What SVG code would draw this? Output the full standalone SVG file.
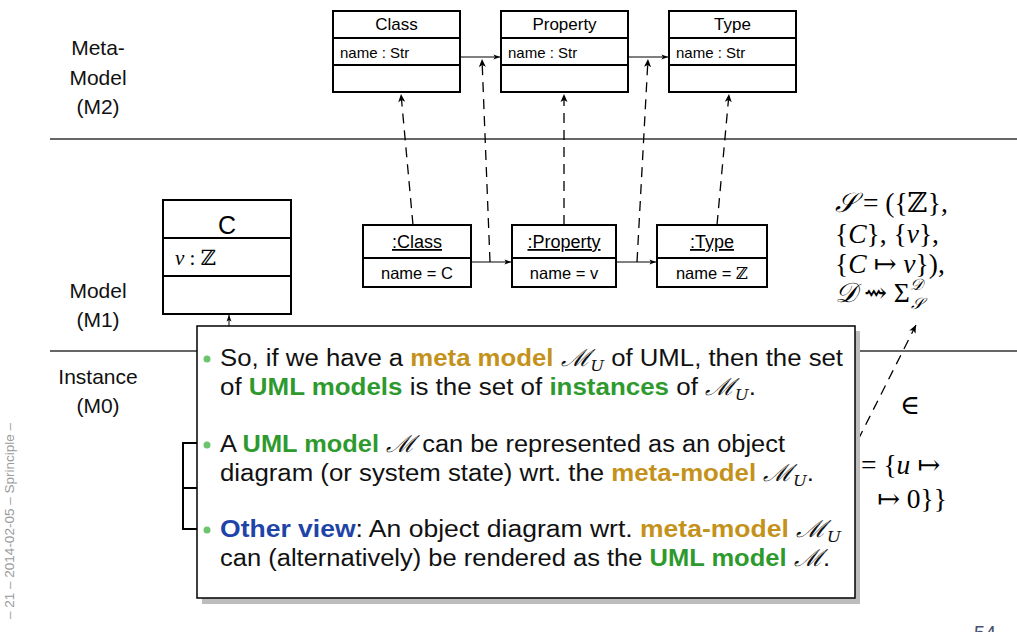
<svg xmlns="http://www.w3.org/2000/svg" width="1017" height="632" viewBox="0 0 1017 632">
<style>
.box{fill:#fff;stroke:#000;stroke-width:2}
.sep{stroke:#000;stroke-width:2}
.lbl{font-family:"Liberation Sans",Arial,sans-serif;fill:#000}
.lvl{font-family:"Liberation Sans",Arial,sans-serif;font-size:21px;fill:#111;text-anchor:middle}
.math{font-family:"Liberation Serif","DejaVu Serif",serif;fill:#000}
.dash{fill:none;stroke:#000;stroke-width:1.3;stroke-dasharray:10 7}
.link{fill:none;stroke:#000;stroke-width:1}
.pop{font-family:"Liberation Sans",Arial,sans-serif;font-size:23.5px;fill:#111}
.gold{fill:#C4921A;font-weight:bold}
.green{fill:#2E9A2E;font-weight:bold}
.blue{fill:#1E44A8;font-weight:bold}
.mu{font-family:"DejaVu Serif",serif;font-style:italic}
</style>
<defs>
<marker id="ah" markerWidth="10" markerHeight="10" refX="9" refY="5" orient="auto" markerUnits="userSpaceOnUse">
<path d="M1,1.5 L9,5 L1,8.5 L3,5 Z" fill="#000"/>
</marker>
<marker id="ahs" markerWidth="8" markerHeight="8" refX="7" refY="4" orient="auto" markerUnits="userSpaceOnUse">
<path d="M0.5,1.5 L7,4 L0.5,6.5 L2,4 Z" fill="#000"/>
</marker>
</defs>
<rect width="1017" height="632" fill="#fff"/>

<!-- level separators -->
<g id="levels">
<line x1="50" y1="139" x2="1017" y2="139" stroke="#333" stroke-width="1.3"/>
<line x1="50" y1="351" x2="1017" y2="351" stroke="#333" stroke-width="1.3"/>
<text class="lvl" x="98" y="55">Meta-</text>
<text class="lvl" x="98" y="85">Model</text>
<text class="lvl" x="98" y="114">(M2)</text>
<text class="lvl" x="98" y="298">Model</text>
<text class="lvl" x="98" y="327">(M1)</text>
<text class="lvl" x="98" y="384">Instance</text>
<text class="lvl" x="98" y="413">(M0)</text>
</g>

<!-- meta-model nodes -->
<g id="Class">
<rect class="box" x="333" y="11" width="127" height="81"/>
<line class="sep" x1="333" y1="38" x2="460" y2="38"/>
<line class="sep" x1="333" y1="65" x2="460" y2="65"/>
<text class="lbl" x="396.5" y="30" font-size="17" text-anchor="middle">Class</text>
<text class="lbl" x="340" y="58" font-size="15">name : Str</text>
</g>
<g id="Property">
<rect class="box" x="501" y="11" width="127" height="81"/>
<line class="sep" x1="501" y1="38" x2="628" y2="38"/>
<line class="sep" x1="501" y1="65" x2="628" y2="65"/>
<text class="lbl" x="564.5" y="30" font-size="17" text-anchor="middle">Property</text>
<text class="lbl" x="508" y="58" font-size="15">name : Str</text>
</g>
<g id="Type">
<rect class="box" x="669" y="11" width="127" height="81"/>
<line class="sep" x1="669" y1="38" x2="796" y2="38"/>
<line class="sep" x1="669" y1="65" x2="796" y2="65"/>
<text class="lbl" x="732.5" y="30" font-size="17" text-anchor="middle">Type</text>
<text class="lbl" x="676" y="58" font-size="15">name : Str</text>
</g>

<!-- model nodes -->
<g id="C">
<rect class="box" x="163" y="200" width="128" height="114"/>
<line class="sep" x1="163" y1="238" x2="291" y2="238"/>
<line class="sep" x1="163" y1="276" x2="291" y2="276"/>
<text class="lbl" x="227" y="234" font-size="25" text-anchor="middle">C</text>
<text class="math" x="175" y="265" font-size="21"><tspan font-style="italic">v</tspan> : ℤ</text>
</g>
<g id="objClass">
<rect class="box" x="363" y="225" width="108" height="62"/>
<line class="sep" x1="363" y1="258" x2="471" y2="258"/>
<text class="lbl" x="417" y="248" font-size="18" text-anchor="middle" text-decoration="underline">:Class</text>
<text class="lbl" x="417" y="279" font-size="16.5" text-anchor="middle">name = C</text>
</g>
<g id="objProperty">
<rect class="box" x="512" y="225" width="104" height="62"/>
<line class="sep" x1="512" y1="258" x2="616" y2="258"/>
<text class="lbl" x="564" y="248" font-size="18" text-anchor="middle" text-decoration="underline">:Property</text>
<text class="lbl" x="564" y="279" font-size="16.5" text-anchor="middle">name = v</text>
</g>
<g id="objType">
<rect class="box" x="657" y="225" width="110" height="62"/>
<line class="sep" x1="657" y1="258" x2="767" y2="258"/>
<text class="lbl" x="712" y="248" font-size="18" text-anchor="middle" text-decoration="underline">:Type</text>
<text class="lbl" x="712" y="279" font-size="16.5" text-anchor="middle">name = <tspan font-family="DejaVu Serif,serif">ℤ</tspan></text>
</g>

<!-- signature text -->
<g id="signature" class="math" font-size="27.5">
<text x="835" y="212"><tspan font-style="italic">𝒮</tspan> = ({ℤ},</text>
<text x="835" y="243">{<tspan font-style="italic">C</tspan>}, {<tspan font-style="italic">v</tspan>},</text>
<text x="835" y="273">{<tspan font-style="italic">C</tspan> ↦ <tspan font-style="italic">v</tspan>}),</text>
<text x="835" y="302"><tspan font-style="italic">𝒟</tspan> ⇝ Σ<tspan font-size="16" dy="-12" font-style="italic">𝒟</tspan><tspan font-size="16" dx="-12" dy="19" font-style="italic">𝒮</tspan></text>
</g>

<!-- instance level (mostly hidden) -->
<g id="instance">
<rect class="box" x="183" y="443" width="80" height="86"/>
<line class="sep" x1="183" y1="488" x2="263" y2="488"/>
<text class="math" x="900" y="414" font-size="27">∈</text>
<text class="math" x="861" y="474" font-size="27.5">= {<tspan font-style="italic">u</tspan> ↦</text>
<text class="math" x="947" y="508" font-size="27.5" text-anchor="end">↦ 0}}</text>
</g>

<!-- connectors -->
<g id="connectors">
<line class="link" x1="460" y1="57" x2="500" y2="57" marker-end="url(#ahs)"/>
<line class="link" x1="628" y1="57" x2="668" y2="57" marker-end="url(#ahs)"/>
<line class="link" x1="471" y1="262" x2="511" y2="262" marker-end="url(#ahs)"/>
<line class="link" x1="616" y1="262" x2="656" y2="262" marker-end="url(#ahs)"/>
<line class="dash" x1="413" y1="225" x2="401" y2="94" marker-end="url(#ah)"/>
<line class="dash" x1="490" y1="262" x2="482" y2="59" marker-end="url(#ah)"/>
<line class="dash" x1="564" y1="225" x2="564" y2="94" marker-end="url(#ah)"/>
<line class="dash" x1="637" y1="262" x2="648" y2="59" marker-end="url(#ah)"/>
<line class="dash" x1="717" y1="225" x2="729" y2="94" marker-end="url(#ah)"/>
<line class="dash" x1="858" y1="440" x2="916" y2="325" marker-end="url(#ah)"/>
<line class="link" x1="229" y1="443" x2="229" y2="315" marker-end="url(#ahs)"/>
</g>

<!-- popup -->
<g id="popup">
<rect x="202" y="331" width="658" height="273" fill="#bdbdbd"/>
<rect x="197" y="326" width="658" height="272" fill="#fff" stroke="#000" stroke-width="1.5"/>
<circle cx="207" cy="359" r="3.5" fill="#6CC46C"/>
<circle cx="207" cy="445" r="3.5" fill="#6CC46C"/>
<circle cx="207" cy="530" r="3.5" fill="#6CC46C"/>
<text class="pop" x="220" y="366" textLength="623" lengthAdjust="spacingAndGlyphs">So, if we have a <tspan class="gold">meta model</tspan> <tspan class="mu">ℳ</tspan><tspan class="mu" font-size="15" dy="5">U</tspan><tspan dy="-5"> of UML, then the set</tspan></text>
<text class="pop" x="220" y="395" textLength="536" lengthAdjust="spacingAndGlyphs">of <tspan class="green">UML models</tspan> is the set of <tspan class="green">instances</tspan> of <tspan class="mu">ℳ</tspan><tspan class="mu" font-size="15" dy="5">U</tspan><tspan dy="-5">.</tspan></text>
<text class="pop" x="220" y="452" textLength="565" lengthAdjust="spacingAndGlyphs">A <tspan class="green">UML model</tspan> <tspan class="mu">ℳ</tspan> can be represented as an object</text>
<text class="pop" x="220" y="481" textLength="594" lengthAdjust="spacingAndGlyphs">diagram (or system state) wrt. the <tspan class="gold">meta-model</tspan> <tspan class="mu">ℳ</tspan><tspan class="mu" font-size="15" dy="5">U</tspan><tspan dy="-5">.</tspan></text>
<text class="pop" x="220" y="537" textLength="621" lengthAdjust="spacingAndGlyphs"><tspan class="blue">Other view</tspan>: An object diagram wrt. <tspan class="gold">meta-model</tspan> <tspan class="mu">ℳ</tspan><tspan class="mu" font-size="15" dy="5">U</tspan></text>
<text class="pop" x="220" y="566" textLength="610" lengthAdjust="spacingAndGlyphs">can (alternatively) be rendered as the <tspan class="green">UML model</tspan> <tspan class="mu">ℳ</tspan>.</text>
</g>

<!-- footer -->
<g id="footer">
<text x="14" y="521" transform="rotate(-90 14 521)" font-family="Liberation Sans,Arial,sans-serif" font-size="13.5" fill="#9a9a9a" text-anchor="middle">– 21 – 2014-02-05 – Sprinciple –</text>
<text x="974" y="640" font-family="Liberation Sans,Arial,sans-serif" font-size="20" fill="#4a5272">54</text>
</g>
</svg>
